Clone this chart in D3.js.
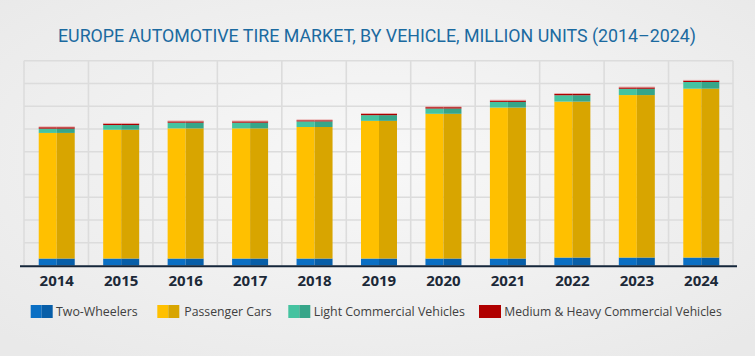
<!DOCTYPE html>
<html><head><meta charset="utf-8">
<script src="https://cdn.jsdelivr.net/npm/d3@7"></script>
<style>html,body{margin:0;padding:0;background:#f0f0f0;}svg{display:block;}</style>
</head><body>
<svg id="c" width="755" height="356"></svg>
<script>
const years = ["2014","2015","2016","2017","2018","2019","2020","2021","2022","2023","2024"];
const twoWheelers = [15.3,15.3,15.3,15.3,15.3,15.3,15.3,15.3,17.5,17.5,17.5];
const passengerCars = [276,283,286,286,289,302.5,318,331.7,342.6,357,371];
const lightCommercial = [9.4,10.3,12.5,12.5,12.3,12.5,11.6,12.5,14,13.8,14.7];
const mediumHeavy = [3.1,2.9,2.9,2.9,2.5,2.9,3,2.9,2.9,3,2.9];
const seriesNames = ["Two-Wheelers","Passenger Cars","Light Commercial Vehicles","Medium & Heavy Commercial Vehicles"];
const yTicks = [0,50,100,150,200,250,300,350,400,450];

const colorsLight = ["#0a6fc4","#ffc000","#45c3a0","#b00000"];
const colorsDark  = ["#075ea8","#d8a500","#36a589","#a80000"];

const svg = d3.select("#c");
const defs = svg.append("defs");
const rg = defs.append("radialGradient").attr("id","bg").attr("cx","50%").attr("cy","45%").attr("r","70%");
rg.append("stop").attr("offset","0%").attr("stop-color","#f8f8f8");
rg.append("stop").attr("offset","100%").attr("stop-color","#e9e9e9");
svg.append("rect").attr("width",755).attr("height",356).attr("fill","url(#bg)");

svg.append("text").attr("x",377).attr("y",42).attr("text-anchor","middle")
  .attr("font-family","Roboto, 'Open Sans', sans-serif").attr("font-size",19)
  .attr("fill","#1b6aa0").attr("textLength",638).attr("lengthAdjust","spacingAndGlyphs")
  .text("EUROPE AUTOMOTIVE TIRE MARKET, BY VEHICLE, MILLION UNITS (2014–2024)");

const x0 = 24, x1 = 733;
const x = d3.scaleBand().domain(years).range([x0,x1]).paddingInner(0).paddingOuter(0);
const y = d3.scaleLinear().domain([0,450]).range([265.5,60.7]);

const grid = svg.append("g").attr("stroke","#dcdcdc").attr("stroke-width",1.6);
yTicks.slice(1).forEach(t=>{
  grid.append("line").attr("x1",x0).attr("x2",x1).attr("y1",y(t)).attr("y2",y(t));
});
years.forEach(yr=>{
  grid.append("line").attr("x1",x(yr)).attr("x2",x(yr)).attr("y1",y(450)).attr("y2",y(0));
});
grid.append("line").attr("x1",x1).attr("x2",x1).attr("y1",y(450)).attr("y2",y(0));

const data = years.map((yr,i)=>({year:yr, s0:twoWheelers[i], s1:passengerCars[i], s2:lightCommercial[i], s3:mediumHeavy[i]}));
const stack = d3.stack().keys(["s0","s1","s2","s3"])(data);
const bw = 36;
const bars = svg.append("g");
stack.forEach((layer,k)=>{
  layer.forEach(d=>{
    const cx = x(d.data.year) + x.bandwidth()/2 + 0.5;
    const yt = y(d[1]), yb = y(d[0]);
    bars.append("rect").attr("x",cx-bw/2).attr("y",yt).attr("width",bw/2).attr("height",yb-yt).attr("fill",colorsLight[k]);
    bars.append("rect").attr("x",cx).attr("y",yt).attr("width",bw/2).attr("height",yb-yt).attr("fill",colorsDark[k]);
    if(k===3){
      bars.append("rect").attr("x",cx-bw/2).attr("y",yt-0.8).attr("width",bw).attr("height",0.8).attr("fill","#e8a0a0");
    }
  });
});

svg.append("line").attr("x1",20).attr("x2",737).attr("y1",266.3).attr("y2",266.3).attr("stroke","#15263a").attr("stroke-width",2);

const xAxis = svg.append("g").attr("transform","translate(0,266)")
  .call(d3.axisBottom(x).tickSize(0).tickPadding(0));
xAxis.select(".domain").remove();
xAxis.selectAll("text").attr("y",19.5).attr("dy",0).attr("font-family","'Open Sans', sans-serif")
  .attr("font-weight","bold").attr("font-size",15).attr("fill","#1c2938").attr("dx",0.5);

const legendItems = [
  {sx:30.7, tx:56, tw:81.7},
  {sx:157.3, tx:184.3, tw:87.4},
  {sx:288.3, tx:313.7, tw:151.3},
  {sx:479, tx:504.3, tw:217.4}
];
const lg = svg.append("g");
legendItems.forEach((it,k)=>{
  if(k<3){
    lg.append("rect").attr("x",it.sx).attr("y",305).attr("width",11).attr("height",13).attr("fill",colorsLight[k]);
    lg.append("rect").attr("x",it.sx+11).attr("y",305).attr("width",11).attr("height",13).attr("fill",colorsDark[k]);
  } else {
    lg.append("rect").attr("x",it.sx).attr("y",305).attr("width",22).attr("height",13).attr("fill","#b00000");
  }
  lg.append("text").attr("x",it.tx).attr("y",316).attr("font-family","'Open Sans', sans-serif")
    .attr("font-size",12.5).attr("font-weight",500).attr("fill","#404040").attr("textLength",it.tw).attr("lengthAdjust","spacingAndGlyphs")
    .text(seriesNames[k]);
});
</script>
</body></html>
